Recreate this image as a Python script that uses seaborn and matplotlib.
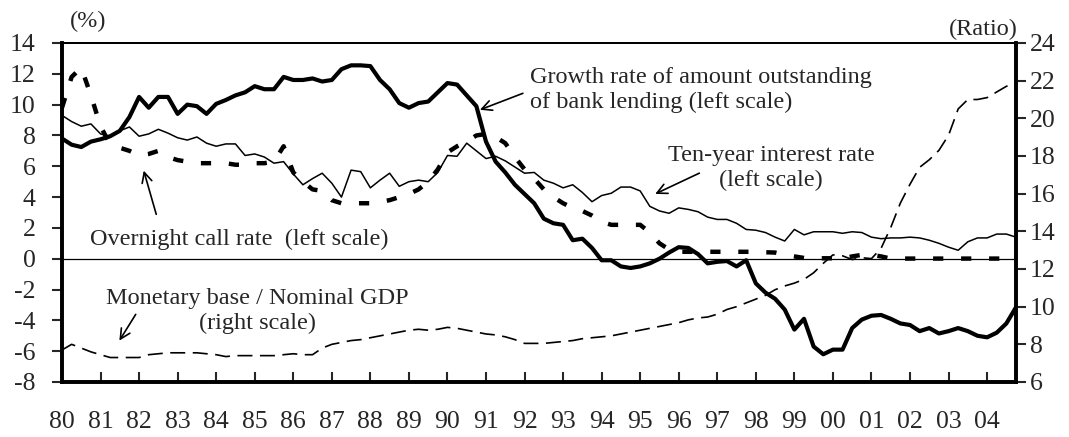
import numpy as np
import pandas as pd
import matplotlib
matplotlib.use("Agg")
import matplotlib.pyplot as plt
import seaborn as sns

# ---- data (quarterly, 1980Q1 - 2004Q4) ----
year_labels = ["80", "81", "82", "83", "84", "85", "86", "87", "88", "89", "90", "91", "92",
               "93", "94", "95", "96", "97", "98", "99", "00", "01", "02", "03", "04"]

bank_lending = [7.8, 7.4, 7.25, 7.6, 7.75, 7.95, 8.3, 9.2, 10.5, 9.8,
                10.5, 10.5, 9.4, 10.0, 9.9, 9.4, 10.05, 10.3, 10.6, 10.8,
                11.2, 11.0, 11.0, 11.8, 11.6, 11.6, 11.7, 11.5, 11.6, 12.3,
                12.55, 12.55, 12.5, 11.6, 11.0, 10.1, 9.8, 10.1, 10.2, 10.8,
                11.4, 11.3, 10.6, 9.9, 7.6, 6.3, 5.6, 4.8, 4.2, 3.6,
                2.6, 2.3, 2.2, 1.2, 1.3, 0.7, -0.1, -0.1, -0.5, -0.6,
                -0.5, -0.3, 0.0, 0.4, 0.75, 0.7, 0.3, -0.3, -0.2, -0.15,
                -0.5, -0.1, -1.6, -2.2, -2.6, -3.3, -4.6, -3.9, -5.7, -6.2,
                -5.9, -5.9, -4.5, -3.95, -3.7, -3.65, -3.9, -4.2, -4.3, -4.7,
                -4.5, -4.85, -4.7, -4.5, -4.7, -5.0, -5.1, -4.8, -4.2, -3.15]

call_rate = [9.8, 11.8, 12.4, 10.6, 8.6, 7.4, 7.2, 7.0, 6.7, 6.8,
             7.0, 6.6, 6.4, 6.3, 6.2, 6.2, 6.2, 6.2, 6.1, 6.1,
             6.2, 6.2, 6.3, 7.3, 5.6, 5.0, 4.5, 4.4, 3.8, 3.6,
             3.6, 3.6, 3.6, 3.7, 3.8, 4.0, 4.2, 4.5, 5.0, 5.8,
             6.9, 7.3, 7.6, 8.0, 8.1, 7.9, 7.5, 6.6, 5.8, 5.2,
             4.5, 4.0, 3.6, 3.3, 3.1, 2.8, 2.4, 2.2, 2.2, 2.2,
             2.2, 1.7, 1.0, 0.6, 0.45, 0.45, 0.45, 0.45, 0.45, 0.45,
             0.45, 0.45, 0.45, 0.42, 0.4, 0.25, 0.15, 0.05, 0.03, 0.03,
             0.03, 0.03, 0.15, 0.25, 0.25, 0.15, 0.01, 0.01, 0.01, 0.01,
             0.01, 0.01, 0.01, 0.01, 0.01, 0.01, 0.01, 0.01, 0.01, 0.01]

ten_year = [9.3, 8.9, 8.6, 8.75, 8.1, 7.95, 8.3, 8.55, 7.95, 8.1,
            8.4, 8.15, 7.85, 7.7, 7.9, 7.5, 7.3, 7.45, 7.45, 6.7,
            6.8, 6.6, 6.2, 6.3, 5.5, 4.8, 5.2, 5.55, 4.9, 4.0,
            5.75, 5.65, 4.6, 5.1, 5.55, 4.7, 5.0, 5.1, 5.0, 5.6,
            6.7, 6.65, 7.5, 7.0, 6.5, 6.65, 6.35, 5.95, 5.55, 5.6,
            5.1, 4.9, 4.6, 4.8, 4.3, 3.7, 4.1, 4.25, 4.65, 4.65,
            4.4, 3.4, 3.1, 2.95, 3.3, 3.2, 3.05, 2.7, 2.55, 2.55,
            2.3, 1.9, 1.85, 1.7, 1.4, 1.15, 1.9, 1.55, 1.75, 1.75,
            1.75, 1.65, 1.75, 1.7, 1.4, 1.3, 1.35, 1.35, 1.4, 1.35,
            1.2, 1.0, 0.75, 0.55, 1.1, 1.35, 1.35, 1.6, 1.6, 1.4]

base_to_gdp = [7.7, 8.0, 7.8, 7.6, 7.45, 7.3, 7.3, 7.3, 7.3, 7.45,
               7.5, 7.55, 7.55, 7.55, 7.55, 7.5, 7.45, 7.35, 7.4, 7.4,
               7.4, 7.4, 7.4, 7.45, 7.5, 7.45, 7.45, 7.8, 8.0, 8.1,
               8.2, 8.25, 8.35, 8.45, 8.55, 8.65, 8.75, 8.8, 8.75, 8.8,
               8.9, 8.85, 8.75, 8.65, 8.55, 8.5, 8.4, 8.25, 8.05, 8.05,
               8.05, 8.1, 8.15, 8.2, 8.3, 8.35, 8.4, 8.45, 8.55, 8.65,
               8.75, 8.85, 8.95, 9.05, 9.15, 9.3, 9.4, 9.45, 9.6, 9.85,
               10.0, 10.2, 10.4, 10.6, 10.9, 11.1, 11.25, 11.45, 11.8, 12.3,
               12.75, 12.7, 12.5, 12.6, 12.55, 13.1, 14.2, 15.5, 16.5, 17.4,
               17.8, 18.3, 19.1, 20.5, 21.0, 21.0, 21.1, 21.4, 21.7, 21.9]

quarter = np.arange(len(bank_lending))
df = pd.DataFrame({"q": quarter, "lending": bank_lending, "call": call_rate,
                   "tenyr": ten_year, "base": base_to_gdp})

# ---- style ----
sns.set_style("white")
plt.rcParams["font.family"] = ["Liberation Serif", "DejaVu Serif"]
plt.rcParams["axes.unicode_minus"] = False

fig = plt.figure(figsize=(10.69, 4.37), dpi=100)
ax = fig.add_axes([62 / 1069, 1 - 382 / 437, (1016 - 62) / 1069, (382 - 43) / 437])
ax2 = ax.twinx()

ax.axhline(0, color="black", lw=0.9, zorder=1)

sns.lineplot(data=df, x="q", y="tenyr", ax=ax, color="black", lw=1.1, zorder=3)
sns.lineplot(data=df, x="q", y="call", ax=ax, color="black", lw=3.2, zorder=3,
             linestyle=(0, (2.3, 4.0)))
sns.lineplot(data=df, x="q", y="lending", ax=ax, color="black", lw=3.0, zorder=4)
sns.lineplot(data=df, x="q", y="base", ax=ax2, color="black", lw=1.2,
             linestyle=(0, (9, 4.5)))

# ---- axes ----
ax.set_xlim(0, len(quarter) - 1)
ax.set_ylim(-8, 14)
ax.set_yticks(np.arange(-8, 15, 2))
ax2.set_ylim(6, 24)
ax2.set_yticks(np.arange(6, 25, 2))
ax.set_xticks(np.arange(0, len(quarter), 4))
ax.set_xticklabels(year_labels)
for a in (ax, ax2):
    a.set_xlabel("")
    a.set_ylabel("")

tick_fs = 18.5
ax.tick_params(axis="x", direction="in", length=7, width=1.5, pad=21,
               labelsize=tick_fs, bottom=True)
ax.tick_params(axis="y", direction="out", length=7, width=1.5, pad=12,
               labelsize=tick_fs, left=True)
ax2.tick_params(axis="y", direction="out", length=7, width=1.5, pad=3,
                labelsize=tick_fs, right=True)

for a in (ax, ax2):
    for side in ("left", "bottom", "right"):
        a.spines[side].set_linewidth(2.6)
        a.spines[side].set_color("black")
    a.spines["top"].set_linewidth(1.4)
    a.spines["top"].set_color("black")

# ---- annotations ----
fs = 17.5
arrow = dict(arrowstyle="->", color="black", lw=1.2, mutation_scale=18)

ax.text(48.6, 10.95, "Growth rate of amount outstanding\nof bank lending (left scale)",
        ha="left", va="center", fontsize=fs, linespacing=1.2)
ax.annotate("", xy=(43.1, 9.6), xytext=(48.1, 10.8), arrowprops=arrow)

ax.text(73.6, 5.89, "Ten-year interest rate\n(left scale)", ha="center", va="center",
        multialignment="center", fontsize=fs, linespacing=1.2)
ax.annotate("", xy=(61.3, 4.13), xytext=(66.4, 5.63), arrowprops=arrow)

ax.text(2.9, 1.28, "Overnight call rate  (left scale)", ha="left", va="center", fontsize=fs)
ax.annotate("", xy=(8.4, 5.89), xytext=(9.86, 2.71), arrowprops=arrow)

ax.text(20.3, -3.39, "Monetary base / Nominal GDP\n(right scale)", ha="center", va="center",
        multialignment="center", fontsize=fs, linespacing=1.2)
ax.annotate("", xy=(5.8, -5.47), xytext=(7.8, -3.46), arrowprops=arrow)

fig.text(88 / 1069, 1 - 21 / 437, "(%)", ha="center", va="center", fontsize=fs)
fig.text(983 / 1069, 1 - 29 / 437, "(Ratio)", ha="center", va="center", fontsize=fs)

fig.savefig("out.png", dpi=100)
